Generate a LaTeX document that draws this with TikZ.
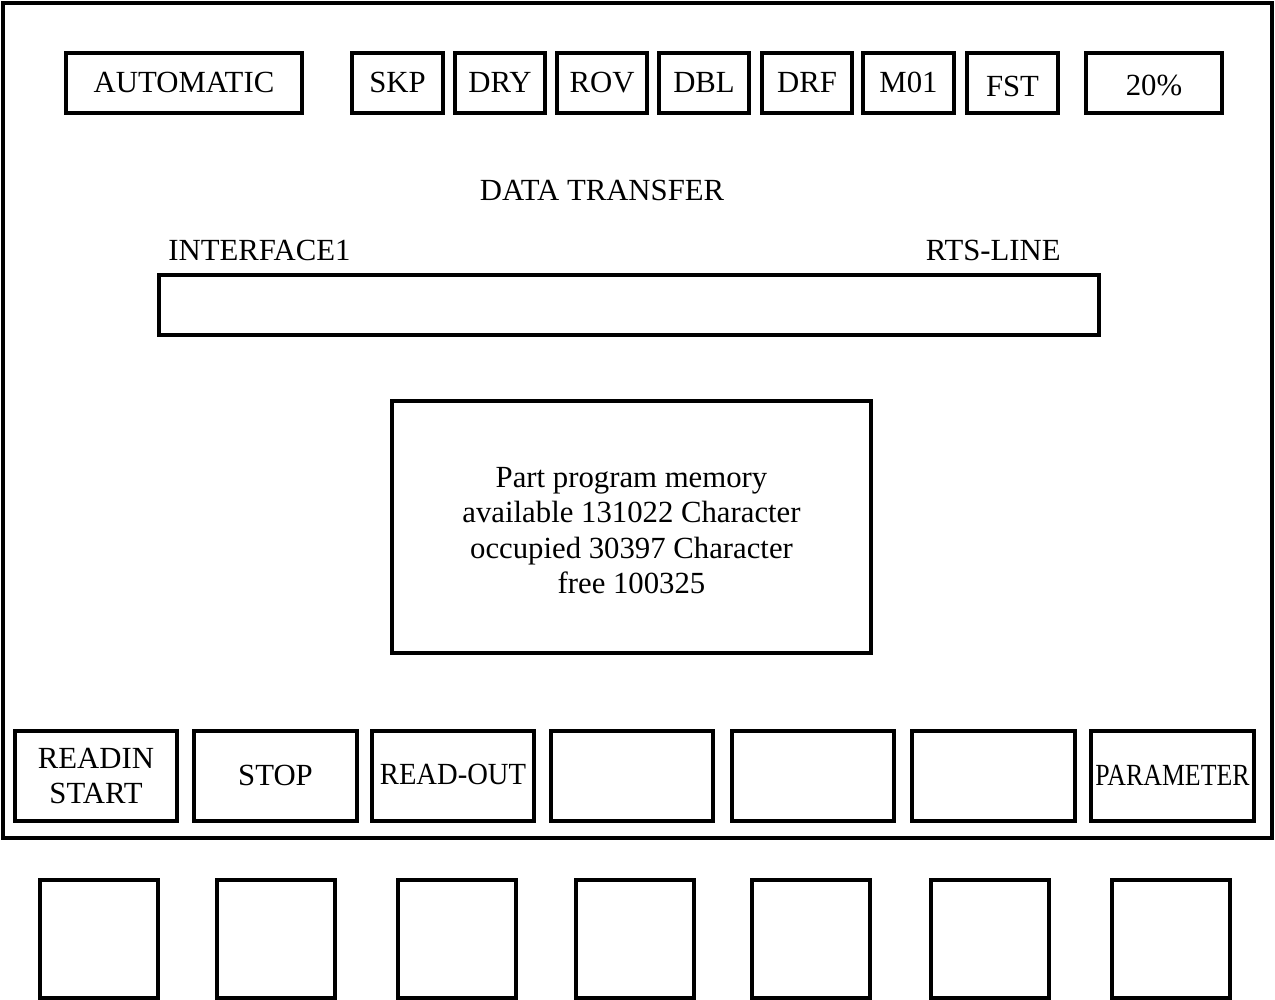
\documentclass[tikz,border=0pt]{standalone}
\usepackage{fontspec}
\setmainfont{Liberation Serif}
\tikzset{
	panel/.style={draw, line width=2.2pt, inner sep=0pt, align=center,
		font=\fontsize{17.5}{20}\selectfont},
	oneline/.style={text height=12pt, text depth=0.8pt},
	label/.style={inner sep=0pt, font=\fontsize{17.5}{20}\selectfont}
}
\begin{document}
\begin{tikzpicture}[x=0.02cm, y=-0.02cm]
	\useasboundingbox (0, 0) rectangle (1275, 1000);

	% screen frame
	\draw[line width=2.2pt] (3, 3) rectangle (1272, 838);

	% status line
	\node[panel, oneline, minimum width=4.72cm, minimum height=1.2cm] (auto) at (184, 83) {AUTOMATIC};
	\node[panel, oneline, minimum width=1.82cm, minimum height=1.2cm] (skp) at (397.5, 83) {SKP};
	\node[panel, oneline, minimum width=1.8cm, minimum height=1.2cm] (dry) at (500, 83) {DRY};
	\node[panel, oneline, minimum width=1.8cm, minimum height=1.2cm] (rov) at (602, 83) {ROV};
	\node[panel, oneline, minimum width=1.8cm, minimum height=1.2cm] (dbl) at (704, 83) {DBL};
	\node[panel, oneline, minimum width=1.8cm, minimum height=1.2cm] (drf) at (807, 83) {DRF};
	\node[panel, oneline, minimum width=1.82cm, minimum height=1.2cm] (mzo) at (908.5, 83) {M01};
	\node[panel, oneline, minimum width=1.82cm, minimum height=1.2cm] (fst) at (1012.5, 83) {\raisebox{-2pt}{FST}};
	\node[panel, oneline, minimum width=2.72cm, minimum height=1.2cm] (feed) at (1154, 83) {\raisebox{-1.5pt}{20\%}};

	% data transfer
	\node[label] (title) at (602, 190) {DATA TRANSFER};
	\node[label, anchor=west] (iface) at (168, 250) {INTERFACE1};
	\node[label, anchor=east] (rts) at (1061, 250) {RTS-LINE};
	\node[panel, minimum width=18.8cm, minimum height=1.2cm] (bar) at (629, 305) {};

	\node[panel, minimum width=9.58cm, minimum height=5.04cm] (mem) at (631.5, 527) {};
	\node[label, align=center] (memtext) at (mem.center) [yshift=-2pt]
		{Part program memory\\available 131022 Character\\occupied 30397 Character\\free 100325};

	% softkeys
	\node[panel, minimum width=3.24cm, minimum height=1.8cm] (sk1) at (96, 776) {READIN\\START};
	\node[panel, oneline, minimum width=3.26cm, minimum height=1.8cm] (sk2) at (275.5, 776) {STOP};
	\node[panel, oneline, minimum width=3.24cm, minimum height=1.8cm] (sk3) at (453, 776) {\raisebox{1pt}{\scalebox{0.93}[1]{READ-OUT}}};
	\node[panel, minimum width=3.24cm, minimum height=1.8cm] (sk4) at (632, 776) {};
	\node[panel, minimum width=3.24cm, minimum height=1.8cm] (sk5) at (813, 776) {};
	\node[panel, minimum width=3.26cm, minimum height=1.8cm] (sk6) at (993.5, 776) {};
	\node[panel, oneline, minimum width=3.26cm, minimum height=1.8cm] (sk7) at (1172.5, 776) {\scalebox{0.84}[1]{PARAMETER}};

	% keys below the screen
	\foreach \cx [count=\i] in {99, 276, 457, 635, 811, 990, 1171}
		\node[panel, minimum size=2.36cm] (hk\i) at (\cx, 939) {};
\end{tikzpicture}
\end{document}
